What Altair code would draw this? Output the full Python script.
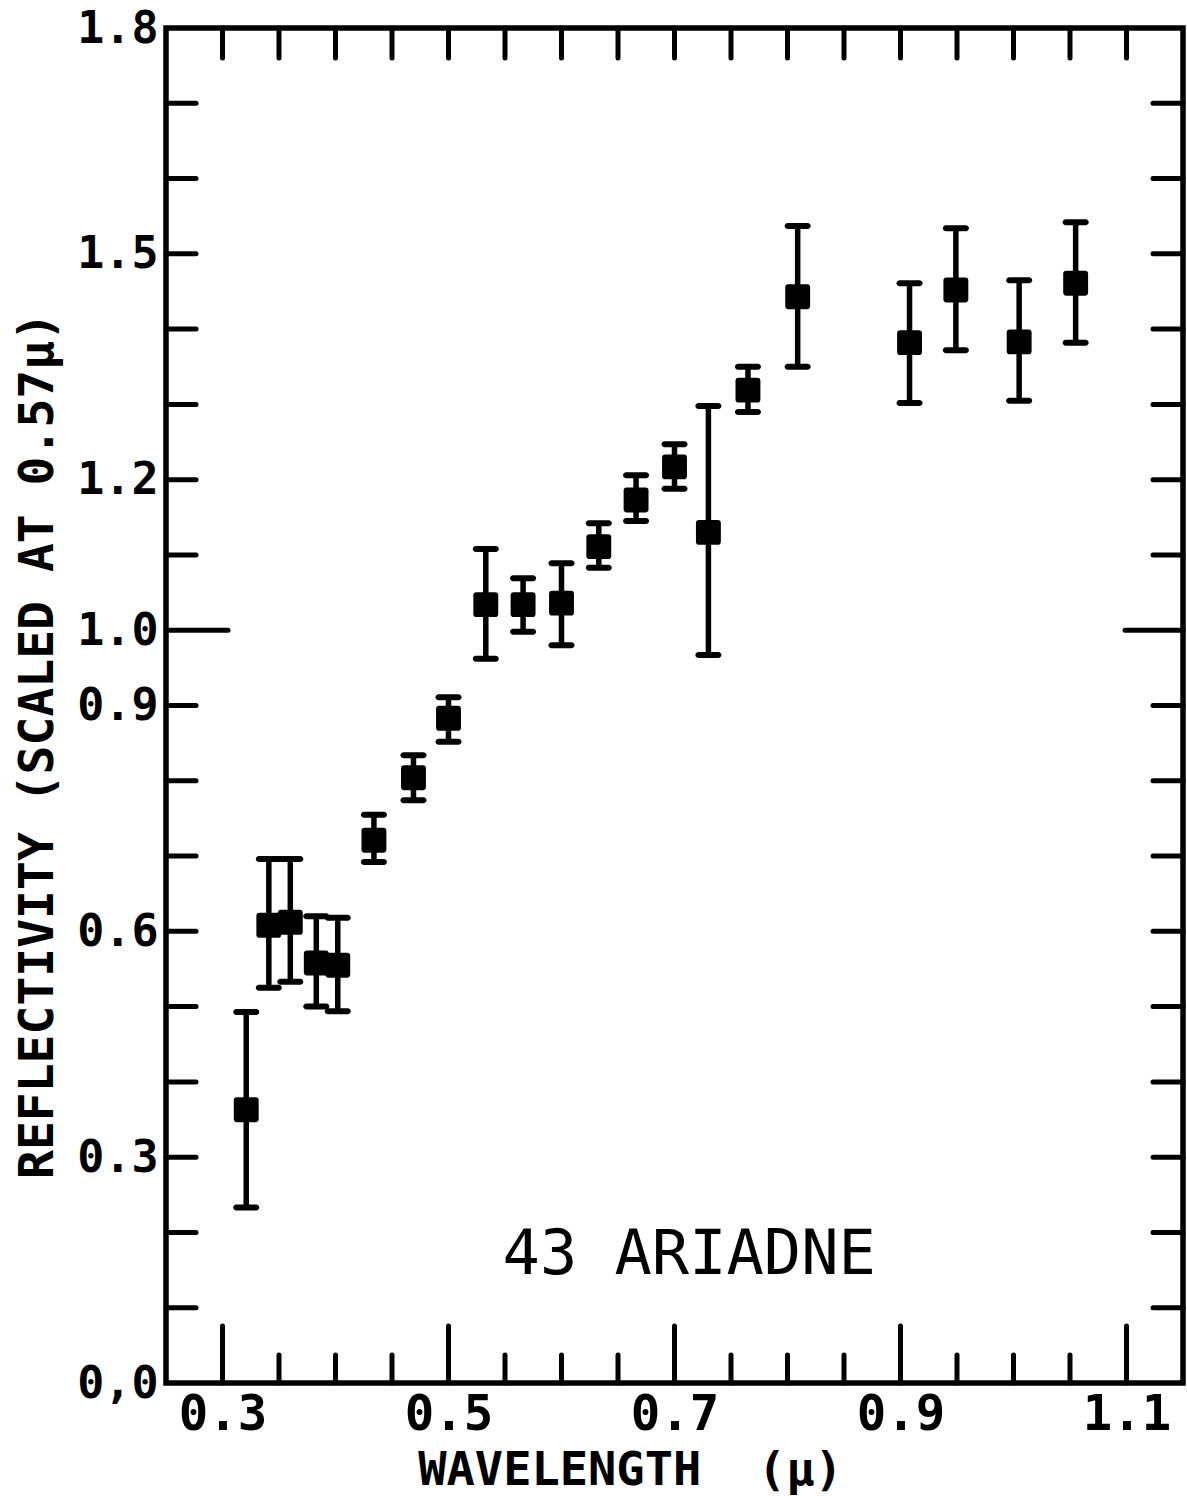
import altair as alt
import pandas as pd

# Reflectivity spectrum of asteroid 43 Ariadne, scaled at 0.57 micron
wavelength = [0.321, 0.341, 0.360, 0.383, 0.402, 0.434, 0.469, 0.500, 0.533, 0.566, 0.600,
              0.633, 0.666, 0.700, 0.730, 0.765, 0.809, 0.908, 0.949, 1.005, 1.055]
reflectivity = [0.363, 0.608, 0.612, 0.558, 0.555, 0.721, 0.804, 0.883, 1.034, 1.034, 1.036,
                1.111, 1.173, 1.217, 1.130, 1.319, 1.443, 1.382, 1.452, 1.383, 1.461]
err_high = [0.493, 0.696, 0.696, 0.620, 0.618, 0.755, 0.834, 0.911, 1.108, 1.069, 1.089,
            1.142, 1.206, 1.247, 1.298, 1.350, 1.537, 1.461, 1.534, 1.465, 1.542]
err_low = [0.233, 0.525, 0.533, 0.500, 0.494, 0.692, 0.774, 0.852, 0.962, 0.998, 0.980,
           1.083, 1.145, 1.188, 0.967, 1.290, 1.350, 1.302, 1.372, 1.305, 1.382]

# tick positions and labels
x_ticks_major = [0.3, 0.5, 0.7, 0.9, 1.1]
x_ticks_minor = [0.35, 0.4, 0.45, 0.55, 0.6, 0.65, 0.75, 0.8, 0.85, 0.95, 1.0, 1.05]
y_ticks_minor = [0.1, 0.2, 0.3, 0.4, 0.5, 0.6, 0.7, 0.8, 0.9,
                 1.1, 1.2, 1.3, 1.4, 1.5, 1.6, 1.7]
y_ticks_major = [1.0]
x_label_values = [0.3, 0.5, 0.7, 0.9, 1.1]
y_label_values = [0.0, 0.3, 0.6, 0.9, 1.0, 1.2, 1.5, 1.8]
object_name = "43 ARIADNE"
label_pos = {"wl": [0.713], "r": [0.17]}

W, H = 1017, 1355
FONT = "DejaVu Sans Mono"
INK = "black"

df = pd.DataFrame({"wl": wavelength, "r": reflectivity, "hi": err_high, "lo": err_low})
xs = alt.Scale(domain=[0.25, 1.15], nice=False, zero=False)
ys = alt.Scale(domain=[0.0, 1.8], nice=False, zero=False)

x_axis = alt.Axis(values=x_label_values, format=".1f", ticks=False, domain=False, grid=False,
                  labelFont=FONT, labelFontSize=49, labelFontWeight="bold", labelColor=INK,
                  labelPadding=7, labelFlush=False, labelOverlap=False,
                  title="WAVELENGTH\u00a0\u00a0(\u03bc)", titleFont=FONT, titleFontSize=47,
                  titleFontWeight="bold", titleColor=INK, titleX=464, titleY=111,
                  titleAlign="center", titleBaseline="bottom")
y_axis = alt.Axis(values=y_label_values, ticks=False, domain=False, grid=False,
                  labelExpr="datum.value == 0 ? '0,0' : format(datum.value, '.1f')",
                  labelFont=FONT, labelFontSize=45, labelFontWeight="bold", labelColor=INK,
                  labelPadding=8, labelFlush=False, labelOverlap=False,
                  title="REFLECTIVITY (SCALED AT 0.57\u03bc)", titleFont=FONT, titleFontSize=48,
                  titleFontWeight="bold", titleColor=INK, titleAngle=-90,
                  titleX=-104, titleY=717, titleAlign="center", titleBaseline="bottom")


def X(field):
    return alt.X(field, type="quantitative", scale=xs, axis=x_axis)


def Y(field):
    return alt.Y(field, type="quantitative", scale=ys, axis=y_axis)


rounded_square = ("M -0.75 -1 L 0.75 -1 Q 1 -1 1 -0.75 L 1 0.75 Q 1 1 0.75 1 "
                  "L -0.75 1 Q -1 1 -1 0.75 L -1 -0.75 Q -1 -1 -0.75 -1 Z")

# measured points
points = alt.Chart(df).mark_point(shape=rounded_square, filled=True, color=INK, opacity=1,
                                  size=620).encode(x=X("wl"), y=Y("r"))

# error bars with caps
bars = alt.Chart(df).mark_rule(color=INK, strokeWidth=5.5).encode(
    x=X("wl"), y=Y("lo"), y2="hi:Q")
cap_hi = alt.Chart(df).mark_tick(color=INK, orient="horizontal", size=26, thickness=6,
                                 cornerRadius=3, opacity=1).encode(x=X("wl"), y=Y("hi"))
cap_lo = alt.Chart(df).mark_tick(color=INK, orient="horizontal", size=26, thickness=6,
                                 cornerRadius=3, opacity=1).encode(x=X("wl"), y=Y("lo"))


def xtick_layer(vals, y0, y1):
    return alt.Chart(pd.DataFrame({"wl": vals})).mark_rule(
        color=INK, strokeWidth=5, strokeCap="round").encode(
        x=X("wl"), y=alt.value(y0), y2=alt.value(y1))


def ytick_layer(vals, x0, x1):
    return alt.Chart(pd.DataFrame({"r": vals})).mark_rule(
        color=INK, strokeWidth=5, strokeCap="round").encode(
        y=Y("r"), x=alt.value(x0), x2=alt.value(x1))


ticks = [
    xtick_layer(x_ticks_major + x_ticks_minor, 0, 30),      # top
    xtick_layer(x_ticks_minor, H, H - 28),                  # bottom minor
    xtick_layer(x_ticks_major, H, H - 57),                  # bottom major
    ytick_layer(y_ticks_minor, 0, 30),                      # left
    ytick_layer(y_ticks_major, 0, 62),
    ytick_layer(y_ticks_minor, W, W - 30),                  # right
    ytick_layer(y_ticks_major, W, W - 58),
]

name = alt.Chart(pd.DataFrame({"label": [object_name], **label_pos})).mark_text(
    font=FONT, fontSize=62, color=INK, align="center", baseline="middle").encode(
    x=X("wl"), y=Y("r"), text="label:N")

chart = alt.layer(points, bars, cap_hi, cap_lo, *ticks, name).properties(
    width=W, height=H,
    autosize=alt.AutoSizeParams(type="none"),
    padding={"left": 166, "top": 28, "right": 4, "bottom": 113},
    background="white",
).configure_view(stroke=INK, strokeWidth=5.5)

chart.save("out.html", embed_options={"renderer": "svg", "actions": False})
